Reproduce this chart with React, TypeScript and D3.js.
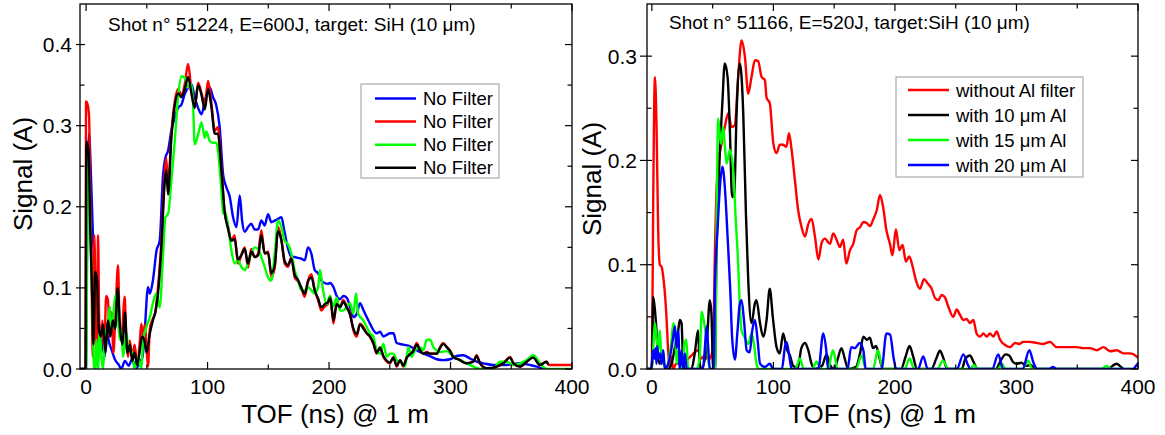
import * as d3 from 'd3';

type Pt = [number, number];

// ---- axis ticks ----
const xTicks = [0, 100, 200, 300, 400];
const xMinor = [50, 150, 250, 350];
const leftYTicks = [0, 0.1, 0.2, 0.3, 0.4];
const leftYMinor = [0.05, 0.15, 0.25, 0.35];
const rightYTicks = [0, 0.1, 0.2, 0.3];
const rightYMinor = [0.05, 0.15, 0.25];

const leftTitle = 'Shot n° 51224, E=600J, target: SiH (10 μm)';
const rightTitle = 'Shot n° 51166, E=520J, target:SiH (10 μm)';
const leftNames = ['No Filter', 'No Filter', 'No Filter', 'No Filter'];
const rightNames = ['without Al filter', 'with 10 μm Al', 'with 15 μm Al', 'with 20 μm Al'];

// ---- left panel: shot 51224 (TOF ns, signal A) ----
const leftBlue: Pt[] = [[-5,0],[0,0],[1,0.2],[2.5,0.29],[4,0.24],[5.8,0.158],[7,0.12],[8.5,0.077],[10,0.048],[11.5,0.052],[13,0.036],[15.4,0.015],[17,0.056],[18.5,0.036],[21,0.024],[24,0.011],[27,0.005],[29,0],[32,0.01],[35,0.004],[38,0.012],[41,0],[44,0.008],[46.5,0.015],[48.3,0.048],[51,0.101],[52.5,0.093],[55,0.109],[58,0.146],[60.6,0.158],[63.4,0.24],[65.2,0.26],[67.5,0.269],[70.2,0.294],[73,0.31],[75.7,0.322],[78.5,0.326],[81.2,0.339],[84,0.347],[86.7,0.351],[89.4,0.335],[92.2,0.322],[95,0.314],[97.7,0.33],[101.8,0.347],[104.5,0.335],[107,0.326],[110,0.298],[112.8,0.24],[115.5,0.224],[118.3,0.212],[121,0.187],[123.8,0.175],[126.5,0.214],[128.5,0.182],[130.6,0.169],[133.3,0.175],[136,0.179],[138.8,0.172],[141.6,0.172],[144.3,0.183],[147,0.177],[149.8,0.191],[152.5,0.181],[155.3,0.183],[158,0.185],[160.8,0.187],[163,0.172],[166,0.15],[169,0.138],[171.7,0.138],[174.4,0.137],[177.2,0.136],[180,0.134],[182.7,0.15],[185.5,0.142],[188.2,0.122],[191,0.118],[193.7,0.109],[196.4,0.106],[199,0.105],[201,0.106],[203.6,0.101],[206.3,0.09],[209,0.086],[211.8,0.09],[214.5,0.088],[217.3,0.077],[220,0.064],[222.8,0.068],[225.5,0.081],[228.2,0.073],[231,0.064],[233.7,0.056],[236.5,0.048],[239.2,0.044],[242,0.046],[244.7,0.04],[247.5,0.042],[250.2,0.044],[253,0.044],[255.7,0.032],[261.2,0.03],[266.7,0.028],[272.2,0.023],[277.6,0.019],[283,0.016],[288.6,0.012],[294,0.011],[299.6,0.012],[305,0.016],[310.6,0.017],[316,0.013],[321.5,0.009],[327,0.007],[335,0.005],[346,0.005],[357,0.007],[365,0.005],[371,0.003],[376.4,0]];

const leftRed: Pt[] = [[-5,0],[-0.5,0],[0,0.33],[1.5,0.325],[2.5,0.31],[3.5,0.2],[4.5,0.12],[5.5,0.015],[6.8,0.165],[7.8,0.08],[8.8,0.02],[9.9,0.165],[10.8,0.06],[12,0.035],[13.5,0.06],[15,0.02],[16.5,0.09],[18,0.085],[19.5,0.04],[21,0.07],[22.5,0.02],[24,0.06],[26.3,0.128],[27.5,0.06],[29,0.035],[31.8,0.089],[33,0.04],[34.5,0.015],[36,0.035],[38,0.015],[40,0.03],[42,0.005],[44,0.03],[45.5,0.056],[47,0.04],[48.5,0.055],[50,0.02],[51,0.003],[52.5,0.05],[55,0.062],[57,0.07],[59,0.097],[62,0.158],[64.7,0.24],[66,0.26],[67.5,0.224],[70.2,0.29],[73,0.33],[75.7,0.345],[78.5,0.338],[81.2,0.351],[84,0.376],[86.7,0.343],[89.4,0.322],[92.2,0.353],[95,0.34],[97.7,0.326],[100.4,0.355],[103,0.33],[106,0.294],[108.5,0.298],[111.4,0.249],[114,0.195],[117,0.175],[119.6,0.158],[122.3,0.165],[125,0.13],[127.7,0.14],[130.6,0.15],[133.3,0.125],[136,0.148],[138.8,0.138],[141.6,0.142],[144.3,0.171],[147,0.142],[149.8,0.145],[152.5,0.113],[155.3,0.125],[158,0.175],[160.8,0.16],[163.5,0.13],[166.2,0.126],[169,0.138],[171.7,0.113],[174.4,0.108],[177.2,0.1],[180,0.089],[182.7,0.109],[185.5,0.117],[188.2,0.097],[191,0.085],[193.7,0.072],[196.4,0.077],[199,0.08],[201,0.09],[203.6,0.056],[206.3,0.081],[209,0.077],[211.8,0.085],[214.5,0.077],[217.3,0.068],[220,0.048],[222.8,0.04],[225.5,0.056],[228.2,0.052],[231,0.044],[233.7,0.04],[236.5,0.031],[239.2,0.019],[242,0.027],[244.7,0.015],[247.5,0.009],[250.2,0.007],[253,0.015],[255.7,0.003],[258.5,0.011],[261.2,0.003],[264,0.015],[266.7,0.019],[269.4,0.023],[272.2,0.032],[275,0.023],[277.6,0.019],[280.4,0.021],[283,0.019],[288.6,0.019],[291.4,0.027],[294,0.032],[296.9,0.027],[299.6,0.023],[302.3,0.015],[307.8,0.011],[313,0.007],[318.8,0.009],[321.5,0.017],[324.3,0.007],[330,0],[338,0.003],[343.5,0.007],[349,0.015],[351.8,0.007],[357.2,0.003],[362.7,0.009],[368,0.015],[373.6,0.005],[379,0.009],[381,0.005],[400,0.005]];

const leftGreen: Pt[] = [[-5,0],[0,0],[1.6,0.269],[3,0.2],[4.4,0.12],[5.8,0.044],[6.6,0],[8,0],[8.5,0.036],[9.9,0],[11.2,0.048],[12.6,0.015],[14,0],[15.4,0.036],[18,0.056],[19.5,0.077],[21,0.048],[23.6,0.085],[25,0.093],[26.3,0.064],[27.7,0.036],[29,0.048],[30.4,0.015],[33.2,0.044],[34.6,0.028],[37.3,0.023],[40,0],[42.8,0.015],[45.5,0],[47,0.036],[49.7,0.052],[52.5,0.064],[55,0.081],[57.8,0.093],[60.6,0.076],[63.4,0.142],[65.3,0.187],[67.5,0.191],[70.2,0.232],[73,0.281],[75.7,0.335],[78.5,0.361],[81.2,0.359],[84,0.347],[86.7,0.351],[88,0.33],[89.4,0.277],[92.2,0.289],[95,0.304],[97.7,0.285],[99,0.293],[101.8,0.281],[104.5,0.279],[107.3,0.279],[108.6,0.269],[111.4,0.22],[112.8,0.191],[114.2,0.195],[117,0.175],[119.6,0.146],[122.4,0.13],[125,0.134],[127.8,0.126],[130.6,0.122],[133.3,0.13],[136,0.142],[138.8,0.15],[141.6,0.148],[144.3,0.138],[147,0.126],[149.8,0.113],[152.5,0.109],[155.3,0.142],[158,0.183],[160.8,0.175],[163.5,0.158],[166.2,0.154],[169,0.142],[171.7,0.122],[174.5,0.109],[177.2,0.097],[180,0.097],[182.7,0.101],[185.5,0.097],[188.2,0.093],[191,0.101],[192.6,0.122],[195,0.098],[198,0.08],[200.8,0.09],[203.6,0.077],[206.3,0.088],[209,0.072],[211.8,0.072],[214.5,0.077],[217.3,0.081],[220,0.068],[222.2,0.093],[224,0.068],[228.2,0.06],[231,0.052],[233.7,0.044],[236.5,0.04],[239.2,0.023],[242,0.019],[244.7,0.031],[247.5,0.015],[250.2,0.019],[253,0.019],[255.7,0.011],[258.5,0.009],[262.5,0.003],[265.3,0.027],[268,0.015],[270.8,0.023],[274.9,0.027],[277.6,0.023],[280.4,0.036],[283.2,0.036],[285.9,0.027],[288.6,0.023],[291.4,0.021],[296.9,0.022],[299.6,0.019],[302.3,0.015],[307.8,0.011],[313.3,0.007],[318.8,0.003],[324.3,0],[335,0],[340.7,0.009],[346.2,0.009],[351.7,0.005],[357.2,0.007],[362.7,0.011],[368.2,0.017],[373.6,0.007],[379,0],[400,0]];

const leftBlack: Pt[] = [[-5,0],[-0.5,0],[0.3,0.28],[2,0.27],[3.5,0.17],[5,0.09],[6,0.03],[7.5,0.12],[9,0.11],[10.5,0.05],[12,0.04],[14,0.055],[16,0.02],[18,0.06],[20,0.04],[22,0.06],[24,0.05],[26,0.1],[28,0.05],[30,0.03],[32,0.07],[34,0.02],[36,0.03],[38,0.01],[40,0.02],[42,0.005],[44,0.02],[46,0.04],[48,0.035],[50,0.02],[52,0.04],[55,0.06],[57,0.07],[59,0.09],[62,0.15],[64.7,0.23],[66,0.245],[67.5,0.215],[70.2,0.285],[73,0.325],[75.7,0.34],[78.5,0.335],[81.2,0.345],[84,0.36],[86.7,0.34],[89.4,0.322],[92.2,0.35],[95,0.338],[97.7,0.32],[100.4,0.345],[103,0.325],[106,0.29],[108.5,0.29],[111.4,0.245],[114,0.195],[117,0.172],[119.6,0.158],[122.3,0.16],[125,0.135],[127.7,0.14],[130.6,0.148],[133.3,0.13],[136,0.145],[138.8,0.138],[141.6,0.14],[144.3,0.165],[147,0.143],[149.8,0.143],[152.5,0.118],[155.3,0.128],[158,0.17],[160.8,0.158],[163.5,0.133],[166.2,0.128],[169,0.136],[171.7,0.116],[174.4,0.11],[177.2,0.1],[180,0.093],[182.7,0.108],[185.5,0.113],[188.2,0.097],[191,0.087],[193.7,0.076],[196.4,0.08],[199,0.082],[201,0.088],[203.6,0.06],[206.3,0.08],[209,0.076],[211.8,0.083],[214.5,0.076],[217.3,0.067],[220,0.05],[222.8,0.043],[225.5,0.055],[228.2,0.05],[231,0.044],[233.7,0.04],[236.5,0.032],[239.2,0.02],[242,0.026],[244.7,0.016],[247.5,0.01],[250.2,0.008],[253,0.014],[255.7,0.004],[258.5,0.011],[261.2,0.004],[264,0.014],[266.7,0.018],[269.4,0.022],[272.2,0.03],[275,0.023],[277.6,0.019],[280.4,0.02],[283,0.019],[288.6,0.019],[291.4,0.026],[294,0.031],[296.9,0.027],[299.6,0.022],[302.3,0.015],[307.8,0.011],[313,0.007],[318.8,0.009],[321.5,0.016],[324.3,0.007],[330,0.001],[338,0.003],[343.5,0.007],[349,0.014],[351.8,0.007],[357.2,0.003],[362.7,0.009],[368,0.014],[373.6,0.005],[379,0.009],[380.5,0.005]];

// ---- right panel: shot 51166 ----
const rightRed: Pt[] = [[-4,0],[0,0],[1.1,0.16],[2.5,0.28],[3.8,0.236],[5.2,0.133],[6.6,0.1],[8,0.098],[9.3,0.089],[10.7,0.073],[12,0.05],[13.4,0.018],[14.8,0],[16,0.012],[17.5,0],[20,0.005],[25,0.005],[30,0.01],[32.6,0.013],[35.3,0.016],[38,0.018],[40.7,0.01],[43.5,0.013],[46.2,0.009],[49,0.013],[50.5,0.03],[52,0.12],[53,0.165],[55,0.2],[57.3,0.216],[60,0.232],[62.8,0.245],[65.6,0.232],[68.3,0.234],[71,0.28],[73.8,0.315],[76.5,0.3],[79.3,0.264],[82,0.28],[84.8,0.296],[87.5,0.295],[90.3,0.28],[93,0.277],[94.4,0.26],[97,0.255],[100,0.216],[102.6,0.207],[105.3,0.215],[108,0.215],[110.7,0.213],[112.8,0.226],[115,0.21],[117.7,0.181],[120.4,0.152],[123.2,0.136],[126,0.127],[128.7,0.139],[131.4,0.144],[134.2,0.127],[137,0.105],[139.7,0.121],[142.4,0.125],[146.5,0.12],[149.2,0.13],[152,0.124],[154.7,0.117],[157.4,0.124],[160,0.101],[163,0.114],[165.7,0.12],[168.5,0.133],[171.3,0.136],[174,0.141],[176.8,0.14],[179.5,0.137],[182,0.143],[185,0.152],[187.7,0.167],[190.3,0.155],[193,0.133],[195.9,0.12],[198,0.109],[200.8,0.134],[203.6,0.114],[206.3,0.119],[209,0.103],[211.8,0.108],[214.6,0.098],[217.3,0.085],[220.6,0.077],[223.9,0.086],[227,0.082],[230.2,0.077],[233,0.068],[235.7,0.066],[238.4,0.071],[241,0.069],[243.9,0.06],[248,0.05],[250.8,0.057],[253.5,0.052],[256.3,0.047],[259,0.048],[261.7,0.044],[264.5,0.047],[267.2,0.034],[270,0.031],[272.7,0.034],[275.5,0.031],[278.2,0.034],[281,0.031],[283.7,0.036],[286.5,0.028],[290.6,0.023],[294.7,0.021],[298.8,0.025],[302,0.024],[305.6,0.026],[311,0.026],[316.6,0.025],[322,0.024],[327.6,0.026],[333,0.021],[338.5,0.021],[344,0.021],[349.5,0.021],[355,0.02],[360.5,0.02],[366,0.018],[371.5,0.021],[377,0.017],[382.5,0.018],[388,0.015],[393.5,0.015],[399,0.012],[400,0.011]];

const rightBlack: Pt[] = [[-4,0],[0,0],[1.1,0.069],[2.5,0.057],[3.8,0.037],[5.2,0.01],[6.6,0.005],[8,0.009],[10.7,0.003],[13.4,0],[16.2,0.005],[19,0.021],[21.7,0.037],[23,0.047],[24.4,0.044],[25.8,0.005],[27.2,0],[32.6,0],[35.3,0.015],[38,0.037],[39.4,0.005],[40.7,0],[45,0.021],[47.7,0.066],[49,0.053],[50.5,0],[52,0],[53,0.1],[55,0.18],[58,0.255],[60,0.293],[62.3,0.28],[64.2,0.229],[66,0.165],[67.8,0.168],[69.7,0.245],[72.4,0.293],[75.2,0.245],[77.4,0.149],[79.3,0.085],[82,0.044],[84.8,0.063],[86.1,0.066],[89,0.044],[91.6,0.031],[94.4,0.047],[97,0.077],[99.5,0.05],[102.6,0.021],[105.3,0.015],[108,0.034],[110.8,0.02],[113.6,0.013],[116.3,0.003],[120,0.001],[123,0.02],[126,0.025],[128.7,0.018],[131.4,0.005],[134.2,0],[140,0.003],[143.8,0.014],[146.5,0.004],[150,0],[153,0.01],[156,0.02],[158.7,0.01],[161.5,0],[168,0.002],[171.3,0.015],[174,0.031],[177,0.028],[179.4,0.03],[182,0.02],[184.5,0.022],[187,0.012],[190,0],[205,0],[208.8,0.012],[212,0.022],[215,0.012],[218,0],[230,0],[234,0.01],[237,0.0175],[240,0.01],[243,0],[255,0],[258,0.01],[261.7,0.013],[265,0.006],[268,0],[283,0],[287,0.008],[291,0.014],[294,0.013],[297,0.007],[300,0.005],[304,0.006],[308,0.003],[312,0.004],[315,0],[376,0],[379,0.003],[382.5,0.005],[385,0.003],[388,0]];

const rightGreen: Pt[] = [[-4,0],[0,0],[1.1,0.02],[2.5,0.044],[3.8,0.03],[5.2,0.018],[6.6,0.037],[8,0.005],[9.3,0.018],[10.7,0],[13.4,0.005],[16.2,0.028],[17.6,0.044],[19,0.037],[20.4,0.005],[21.7,0.018],[24.4,0],[27,0.025],[28.4,0.028],[29.8,0],[37,0],[39.4,0.012],[41,0.055],[42.6,0.047],[44,0.037],[45.4,0.028],[46.8,0.005],[48,0],[52,0],[53.2,0.133],[54.6,0.24],[56.8,0.216],[58.7,0.232],[60,0.215],[61.5,0.197],[64.2,0.21],[67,0.19],[68.9,0.146],[71,0.101],[72.4,0.06],[73.8,0.037],[76.5,0.03],[79.3,0.024],[82,0.034],[84.5,0.02],[86.1,0.005],[88,0],[118,0],[121.8,0.01],[125,0],[132,0],[135.5,0.007],[139,0],[145,0],[149,0.018],[153,0],[168,0],[172.6,0.013],[176,0],[182,0],[186,0.018],[190,0],[208,0],[212,0.01],[216,0],[235,0],[239.5,0.008],[244,0],[262,0],[265,0.004],[268,0],[285,0],[288,0.005],[291,0],[305,0],[309.6,0.008],[313,0],[370,0],[374,0.003],[378,0],[400,0]];

const rightBlue: Pt[] = [[-4,0],[-1,0],[0,0.005],[1.1,0.018],[2,0.01],[3,0.02],[3.8,0.005],[4.5,0.022],[5.2,0.01],[6.6,0.015],[8,0.005],[9.3,0.018],[10.7,0],[13.4,0.005],[16.2,0.02],[17.6,0.031],[19,0.041],[20.4,0.02],[21.7,0.037],[23,0],[24.4,0.018],[25.8,0],[27.2,0.015],[28.6,0],[42,0],[43.5,0.018],[45,0.041],[46.4,0.02],[47.7,0],[51,0],[51.9,0.079],[54,0.133],[56.2,0.178],[58,0.194],[60,0.175],[62.3,0.127],[64.5,0.076],[66,0.031],[68.3,0.009],[70.5,0.037],[72.4,0.063],[73.8,0.066],[76,0.044],[78,0.018],[80.5,0.016],[82.6,0.037],[84.8,0.047],[87,0.028],[89,0.005],[93,0.002],[97,0.005],[100,0],[107,0],[109.5,0.021],[110.8,0.026],[113,0.013],[115,0],[137,0],[141,0.034],[143.5,0.018],[145,0],[161,0],[164,0.021],[167,0.02],[171,0.025],[174,0.018],[176,0],[189,0],[193,0.034],[196,0.033],[199,0.01],[201,0],[219,0],[223.3,0.012],[227,0],[251,0],[256.3,0.014],[260,0.004],[262,0],[280,0],[285,0.014],[289,0],[305,0],[310.6,0.018],[314,0.006],[317,0],[327,0],[330,0.002],[333,0],[396,0],[399,0.004],[400,0.005]];

const FONT = '"Liberation Sans", Arial, Helvetica, sans-serif';

interface Series { data: Pt[]; color: string; name: string }

interface PanelProps {
  id: string;
  left: number; right: number; top: number; bottom: number;
  xDomain: [number, number];
  yMax: number;
  yTicks: number[];
  yMinor: number[];
  series: Series[];       // drawing order
  title: string; titleX: number; titleY: number;
  legendBox: { x: number; y: number; w: number; h: number };
  legendRowY: number; legendStep: number;
  legendLineX: [number, number]; legendTextX: number;
  xLabelX: number; yLabelX: number; yLabelY: number;
  tickOut: number; labelGap: number;
}

function Panel(p: PanelProps) {
  const x = d3.scaleLinear().domain(p.xDomain).range([p.left, p.right]);
  const y = d3.scaleLinear().domain([0, p.yMax]).range([p.bottom, p.top]);
  const line = d3.line<Pt>().x(d => x(d[0])).y(d => y(d[1])).curve(d3.curveMonotoneX);
  const fmt = d3.format('.1f');
  const major = 7, minor = 4.5;

  return (
    <g>
      <defs>
        <clipPath id={p.id}>
          <rect x={p.left} y={p.top} width={p.right - p.left} height={p.bottom - p.top} />
        </clipPath>
      </defs>
      <g clipPath={`url(#${p.id})`}>
        {p.series.map((s, i) => (
          <path key={i} d={line(s.data) ?? ''} fill="none" stroke={s.color}
            strokeWidth={2.4} strokeLinejoin="round" />
        ))}
      </g>
      <rect x={p.left} y={p.top} width={p.right - p.left} height={p.bottom - p.top}
        fill="none" stroke="#000" strokeWidth={1.3} />
      {xTicks.map(t => (
        <g key={'xt' + t}>
          <line x1={x(t)} x2={x(t)} y1={p.bottom} y2={p.bottom - major} stroke="#000" strokeWidth={1.2} />
          <line x1={x(t)} x2={x(t)} y1={p.top} y2={p.top + major} stroke="#000" strokeWidth={1.2} />
          <text x={x(t)} y={p.bottom + 25} textAnchor="middle" fontSize={21} fontFamily={FONT}>{t}</text>
        </g>
      ))}
      {xMinor.map(t => (
        <g key={'xm' + t}>
          <line x1={x(t)} x2={x(t)} y1={p.bottom} y2={p.bottom - minor} stroke="#000" strokeWidth={1.2} />
          <line x1={x(t)} x2={x(t)} y1={p.top} y2={p.top + minor} stroke="#000" strokeWidth={1.2} />
        </g>
      ))}
      {p.yTicks.map(t => (
        <g key={'yt' + t}>
          <line x1={p.left - p.tickOut} x2={p.left + 5} y1={y(t)} y2={y(t)} stroke="#000" strokeWidth={1.2} />
          <line x1={p.right} x2={p.right - major} y1={y(t)} y2={y(t)} stroke="#000" strokeWidth={1.2} />
          <text x={p.left - p.labelGap} y={y(t)} dy="0.36em" textAnchor="end" fontSize={21} fontFamily={FONT}>{fmt(t)}</text>
        </g>
      ))}
      {p.yMinor.map(t => (
        <g key={'ym' + t}>
          <line x1={p.left} x2={p.left + minor} y1={y(t)} y2={y(t)} stroke="#000" strokeWidth={1.2} />
          <line x1={p.right} x2={p.right - minor} y1={y(t)} y2={y(t)} stroke="#000" strokeWidth={1.2} />
        </g>
      ))}
      <text x={p.titleX} y={p.titleY} fontSize={19} fontFamily={FONT}>{p.title}</text>
      <rect x={p.legendBox.x} y={p.legendBox.y} width={p.legendBox.w} height={p.legendBox.h}
        fill="#fff" stroke="#9a9a9a" strokeWidth={1} />
      {p.series.map((s, i) => {
        const ry = p.legendRowY + i * p.legendStep;
        return (
          <g key={'lg' + i}>
            <line x1={p.legendLineX[0]} x2={p.legendLineX[1]} y1={ry} y2={ry} stroke={s.color} strokeWidth={2.5} />
            <text x={p.legendTextX} y={ry} dy="0.36em" fontSize={18.5} fontFamily={FONT}>{s.name}</text>
          </g>
        );
      })}
      <text x={p.xLabelX} y={423} textAnchor="middle" fontSize={26} fontFamily={FONT}>TOF (ns) @ 1 m</text>
      <text transform={`translate(${p.yLabelX},${p.yLabelY}) rotate(-90)`} textAnchor="middle"
        fontSize={26} fontFamily={FONT}>Signal (A)</text>
    </g>
  );
}

export default function App() {
  const leftSeries: Series[] = [
    { data: leftBlue, color: '#0000ff', name: leftNames[0] },
    { data: leftRed, color: '#ff0000', name: leftNames[1] },
    { data: leftGreen, color: '#00ff00', name: leftNames[2] },
    { data: leftBlack, color: '#000000', name: leftNames[3] },
  ];
  const rightSeries: Series[] = [
    { data: rightRed, color: '#ff0000', name: rightNames[0] },
    { data: rightBlack, color: '#000000', name: rightNames[1] },
    { data: rightGreen, color: '#00ff00', name: rightNames[2] },
    { data: rightBlue, color: '#0000ff', name: rightNames[3] },
  ];
  return (
    <svg width={1165} height={435} style={{ position: 'absolute', left: 0, top: 0, background: '#fff' }}>
      <rect width={1165} height={435} fill="#fff" />
      <Panel id="clipL" left={80} right={572} top={4} bottom={369}
        xDomain={[-5, 400]} yMax={0.45} yTicks={leftYTicks} yMinor={leftYMinor}
        series={leftSeries}
        title={leftTitle} titleX={108} titleY={31}
        legendBox={{ x: 361, y: 84, w: 138, h: 94 }} legendRowY={98.5} legendStep={23.1}
        legendLineX={[375, 416]} legendTextX={423}
        xLabelX={335} yLabelX={32} yLabelY={174} tickOut={4} labelGap={8} />
      <Panel id="clipR" left={647} right={1138} top={4} bottom={369}
        xDomain={[-4, 400]} yMax={0.35} yTicks={rightYTicks} yMinor={rightYMinor}
        series={rightSeries}
        title={rightTitle} titleX={669} titleY={29}
        legendBox={{ x: 896, y: 77, w: 187, h: 100 }} legendRowY={90} legendStep={25}
        legendLineX={[908, 949]} legendTextX={956}
        xLabelX={882} yLabelX={601} yLabelY={179} tickOut={7} labelGap={10} />
    </svg>
  );
}
